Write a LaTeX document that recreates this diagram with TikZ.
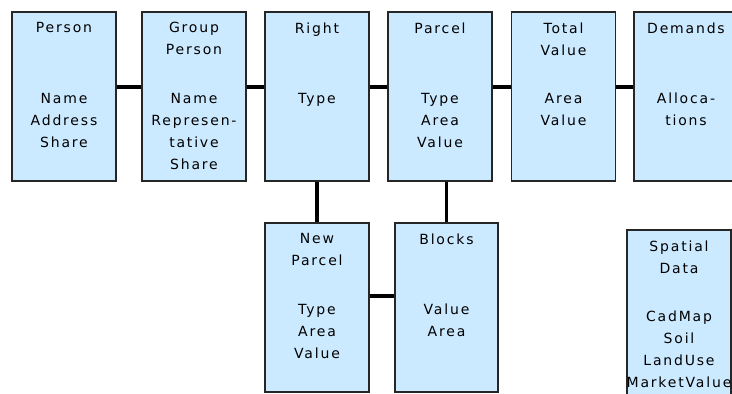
\documentclass[tikz,border=0pt]{standalone}
\usepackage{fontspec}
\newfontfamily\boxfont{DejaVu Sans}[LetterSpace=13]
\usetikzlibrary{positioning}
\definecolor{boxblue}{HTML}{CCEAFF}

\begin{document}
\begin{tikzpicture}[x=1pt, y=-1pt,
    entity/.style={draw=black!85, line width=1.3pt, fill=boxblue, minimum width=104pt, minimum height=169pt, inner sep=0pt},
    txt/.style={align=center, inner sep=0pt, font=\boxfont\fontsize{14}{22}\selectfont},
    link/.style={line width=3.5pt}]
    \useasboundingbox (0,0) rectangle (732,394);
    \node[entity] (person) at (64,96.5) {};
    \node[entity] (group) at (194,96.5) {};
    \node[entity] (right) at (317,96.5) {};
    \node[entity] (parcel) at (440,96.5) {};
    \node[entity] (total) at (563.5,96.5) {};
    \node[entity] (demands) at (686,96.5) {};
    \node[entity] (newparcel) at (317,307.5) {};
    \node[entity, minimum width=103pt] (blocks) at (446.5,307.5) {};
    \node[entity, minimum height=170pt] (spatial) at (679,315) {};

    \node[txt, below=11pt of person.north] (personH) {Person};
    \node[txt, below=81.5pt of person.north] (personB) {Name\\Address\\Share};
    \node[txt, below=11pt of group.north] (groupH) {Group\\Person};
    \node[txt, below=81.5pt of group.north] (groupB) {Name\\Represen-\\tative\\Share};
    \node[txt, below=11pt of right.north] (rightH) {Right};
    \node[txt, below=81.5pt of right.north] (rightB) {Type};
    \node[txt, below=11pt of parcel.north] (parcelH) {Parcel};
    \node[txt, below=81.5pt of parcel.north] (parcelB) {Type\\Area\\Value};
    \node[txt, below=11pt of total.north] (totalH) {Total\\Value};
    \node[txt, below=81.5pt of total.north] (totalB) {Area\\Value};
    \node[txt, below=11pt of demands.north] (demandsH) {Demands};
    \node[txt, below=81.5pt of demands.north] (demandsB) {Alloca-\\tions};
    \node[txt, below=11pt of newparcel.north] (newparcelH) {New\\Parcel};
    \node[txt, below=81.5pt of newparcel.north] (newparcelB) {Type\\Area\\Value};
    \node[txt, below=11pt of blocks.north] (blocksH) {Blocks};
    \node[txt, below=81.5pt of blocks.north] (blocksB) {Value\\Area};
    \node[txt, below=11pt of spatial.north] (spatialH) {Spatial\\Data};
    \node[txt, below=81.5pt of spatial.north] (spatialB) {CadMap\\Soil\\LandUse\\MarketValue};

    \draw[link] ([yshift=9.5pt]person.east) -- ([yshift=9.5pt]group.west);
    \draw[link] ([yshift=9.5pt]group.east) -- ([yshift=9.5pt]right.west);
    \draw[link] ([yshift=9.5pt]right.east) -- ([yshift=9.5pt]parcel.west);
    \draw[link] ([yshift=9.5pt]parcel.east) -- ([yshift=9.5pt]total.west);
    \draw[link] ([yshift=9.5pt]total.east) -- ([yshift=9.5pt]demands.west);
    \draw[link] (right.south) -- (newparcel.north);
    \draw[link] (parcel.south -| blocks.north) -- (blocks.north);
    \draw[link] ([yshift=11.5pt]newparcel.east) -- ([yshift=11.5pt]blocks.west);
  \end{tikzpicture}
\end{document}
